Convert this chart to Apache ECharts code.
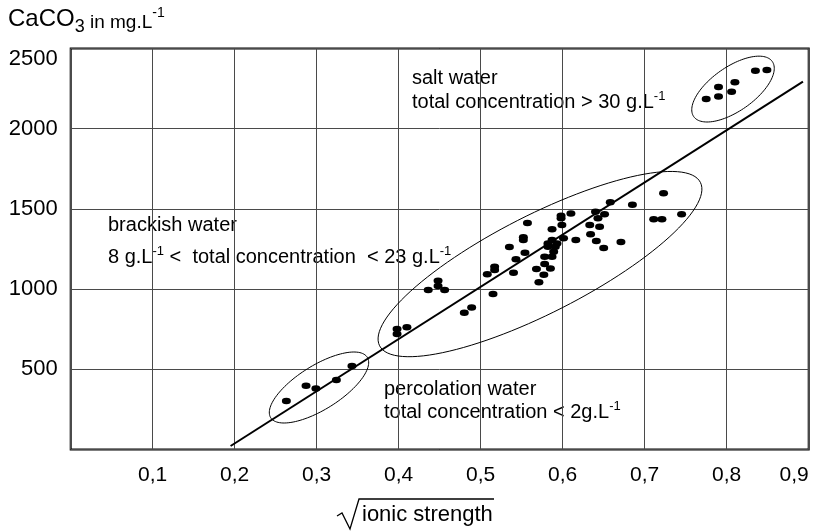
<!DOCTYPE html>
<html><head><meta charset="utf-8">
<script src="https://cdn.jsdelivr.net/npm/echarts@6/dist/echarts.min.js"></script>
<style>html,body{margin:0;padding:0;background:#fff}#c{width:815px;height:531px}</style>
</head><body><div id="c"></div>
<script>
// ---- data ----
const xTicks = [0, 0.1, 0.2, 0.3, 0.4, 0.5, 0.6, 0.7, 0.8, 0.9];
const xTickLabels = ['', '0,1', '0,2', '0,3', '0,4', '0,5', '0,6', '0,7', '0,8', '0,9'];
const yTicks = [0, 500, 1000, 1500, 2000, 2500];
const yTickLabels = ['', '500', '1000', '1500', '2000', '2500'];

const percolation = [[0.263, 302], [0.287, 397], [0.299, 381], [0.324, 433], [0.343, 521]];
const brackish = [
  [0.398, 752], [0.398, 720], [0.410, 762],
  [0.436, 994], [0.448, 1052], [0.448, 1019], [0.456, 994], [0.480, 853], [0.489, 886],
  [0.508, 1092], [0.515, 969], [0.517, 1140], [0.517, 1119], [0.535, 1262], [0.540, 1102],
  [0.543, 1186], [0.552, 1323], [0.552, 1306], [0.554, 1227], [0.557, 1412], [0.568, 1125],
  [0.571, 1042], [0.577, 1090], [0.578, 1156], [0.578, 1202], [0.585, 1128], [0.587, 1202],
  [0.589, 1233], [0.582, 1264], [0.582, 1285], [0.587, 1306], [0.593, 1285], [0.591, 1264],
  [0.587, 1373], [0.601, 1317], [0.599, 1400], [0.598, 1441], [0.598, 1458], [0.610, 1472],
  [0.616, 1306], [0.633, 1400], [0.634, 1342], [0.641, 1300], [0.650, 1256], [0.645, 1389],
  [0.643, 1441], [0.640, 1482], [0.651, 1466], [0.658, 1541], [0.671, 1294], [0.685, 1526],
  [0.711, 1435], [0.721, 1435], [0.723, 1597], [0.745, 1466]
];
const salt = [[0.775, 2185], [0.790, 2200], [0.790, 2260], [0.806, 2230], [0.810, 2290], [0.835, 2362], [0.849, 2366]];
const fitLine = [[0.195, 22], [0.893, 2293]];
// ellipse: centre x, centre y, semi-axis A (dx, dy), semi-axis B (dx, dy) in data units
const ellipses = [
  [0.3028, 386.5, 0.0589, 188.3, 0.01422, -116.3],
  [0.5723, 1156, 0.1956, 509.4, 0.02713, -272.2],
  [0.8077, 2247, 0.0479, 171.8, 0.0154, -112.3]
];

// ---- chart ----
const FF = '"Liberation Sans", Arial, sans-serif';
const chart = echarts.init(document.getElementById('c'), null, {renderer: 'canvas'});
const dotStyle = {symbol: 'circle', symbolSize: [9, 6.5], itemStyle: {color: '#000', opacity: 1}, silent: true};
const supRich = {
  sup: {fontSize: 13, fontFamily: FF, color: '#000', verticalAlign: 'top', lineHeight: 14}
};
function label(x, y, text, size) {
  return {type: 'text', x: x, y: y, silent: true,
    style: {text: text, fill: '#000', font: size + 'px ' + FF, verticalAlign: 'middle', align: 'left',
      lineHeight: 24, rich: supRich}};
}
chart.setOption({
  animation: false,
  grid: {left: 70.7, right: 6.3, top: 48.5, bottom: 81.5, show: true, borderColor: '#000', borderWidth: 2, containLabel: false},
  xAxis: {
    type: 'value', min: 0, max: 0.9, interval: 0.1,
    axisLine: {show: false}, axisTick: {show: false},
    splitLine: {show: true, lineStyle: {color: '#4a4a4a', width: 1}},
    axisLabel: {
      margin: 15, color: '#000', fontSize: 21, fontFamily: FF,
      formatter: v => xTickLabels[xTicks.findIndex(t => Math.abs(t - v) < 1e-6)] || '',
      alignMaxLabel: 'right'
    }
  },
  yAxis: {
    type: 'value', min: 0, max: 2500, interval: 500,
    axisLine: {show: false}, axisTick: {show: false},
    splitLine: {show: true, lineStyle: {color: '#4a4a4a', width: 1}},
    axisLabel: {
      margin: 13, color: '#000', fontSize: 22, fontFamily: FF,
      formatter: v => {
        const s = yTickLabels[yTicks.indexOf(v)] || '';
        return v === 2500 ? '{top|' + s + '}' : s;
      },
      rich: {top: {padding: [20, 0, 0, 0], fontSize: 22, fontFamily: FF, color: '#000'}}
    }
  },
  series: [
    {type: 'custom', silent: true, z: 1,
      renderItem: (params, api) => {
        const cx = api.value(0), cy = api.value(1), ax = api.value(2), ay = api.value(3), bx = api.value(4), by = api.value(5);
        const pts = [];
        for (let k = 0; k < 120; k++) {
          const t = k / 120 * 2 * Math.PI;
          pts.push(api.coord([cx + Math.cos(t) * ax + Math.sin(t) * bx, cy + Math.cos(t) * ay + Math.sin(t) * by]));
        }
        return {type: 'polygon', shape: {points: pts}, style: {fill: 'none', stroke: '#000', lineWidth: 1}};
      },
      encode: {x: 0, y: 1},
      data: ellipses
    },
    {type: 'line', data: fitLine, symbol: 'none', lineStyle: {color: '#000', width: 2}, silent: true, z: 2},
    Object.assign({type: 'scatter', data: percolation, z: 3}, dotStyle),
    Object.assign({type: 'scatter', data: brackish, z: 3}, dotStyle),
    Object.assign({type: 'scatter', data: salt, z: 3}, dotStyle)
  ],
  graphic: [
    {type: 'text', x: 8, y: 19, silent: true,
      style: {text: '{big|CaCO}{sub|3}{mid| in mg.L}{sup|-1}', fill: '#000', verticalAlign: 'middle', align: 'left',
        rich: {
          big: {fontSize: 24, fontFamily: FF, color: '#000', lineHeight: 26, verticalAlign: 'middle'},
          sub: {fontSize: 18, fontFamily: FF, color: '#000', lineHeight: 18, verticalAlign: 'bottom', padding: [0, 0, -4, 0]},
          mid: {fontSize: 19, fontFamily: FF, color: '#000', lineHeight: 22, verticalAlign: 'bottom'},
          sup: {fontSize: 14, fontFamily: FF, color: '#000', lineHeight: 14, verticalAlign: 'top'}
        }}},
    label(412, 78, 'salt water', 20),
    label(412, 102, 'total concentration > 30 g.L{sup|-1}', 20),
    label(108, 225, 'brackish water', 20),
    label(108, 257, '8 g.L{sup|-1} <  total concentration  < 23 g.L{sup|-1}', 20),
    label(384, 389, 'percolation water', 20),
    label(384, 412, 'total concentration < 2g.L{sup|-1}', 20),
    {type: 'polyline', silent: true, shape: {points: [[337, 516], [342, 513], [350, 529], [359, 499], [494, 499]]},
      style: {stroke: '#000', lineWidth: 1.3, fill: null}},
    {type: 'text', x: 362, y: 515, silent: true,
      style: {text: 'ionic strength', fill: '#000', font: '22px ' + FF, verticalAlign: 'middle', align: 'left'}}
  ]
});
</script>
</body></html>
